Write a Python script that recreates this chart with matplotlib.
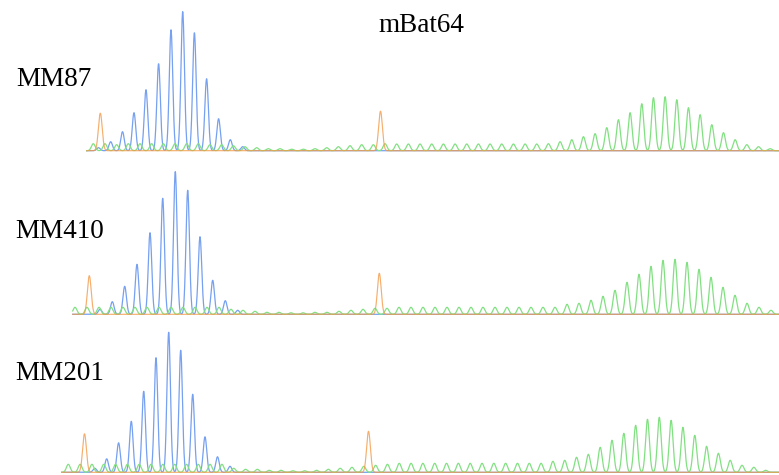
import matplotlib
matplotlib.use("Agg")
import matplotlib.pyplot as plt
import numpy as np

# ---- data (peak positions in scan units, heights in signal units) ----
# MM87
mm87_start = 86.7
mm87_orange_pos = [100.3, 380.5]
mm87_orange_h = [37.5, 39.5]
mm87_blue_pos = [98.5, 110.7, 122.5, 134.0, 146.0, 158.6, 171.0, 182.7, 194.4, 206.6, 218.6, 230.3, 242.7]
mm87_blue_h = [3, 9, 19, 38, 61, 87, 121, 139, 118, 72, 32, 11, 4]
mm87_ladder_first, mm87_ladder_step = 93.3, 11.67
mm87_green_h = [7, 7, 6, 7, 7, 7, 7, 7, 7, 7, 6, 6, 5,
                4, 3, 2, 2, 1.5, 1.5, 2, 3, 4, 5, 6, 6, 7,
                6.7, 6.7, 6.7, 6.7, 6.7, 6.7, 6.7, 6.7, 6.7, 6.7, 6.7, 6.7, 6.7,
                7, 9, 11, 14, 17, 23, 31, 38, 47, 53, 54, 51, 43, 36, 26, 18, 11, 6, 4, 2]

# MM410
mm410_start = 72.7
mm410_orange_pos = [89.3, 379.3]
mm410_orange_h = [38.6, 41]
mm410_blue_pos = [100.0, 112.3, 124.7, 137.0, 150.0, 162.7, 175.3, 187.7, 200.0, 212.7, 225.3, 237.7]
mm410_blue_h = [5, 12.6, 28, 50, 81.6, 116, 142.6, 124, 77.6, 34, 13.6, 4]
mm410_ladder_first, mm410_ladder_step = 75.0, 12.0
mm410_green_h = [7, 7, 7, 7, 7, 7, 7, 7, 7, 7, 7, 7, 7,
                 5, 4, 3, 2, 2, 1.5, 1.5, 2, 2, 3, 4, 5, 6, 6,
                 7, 7, 7, 7, 7, 7, 7, 7, 7, 7, 7, 7, 7, 7,
                 10, 11, 14, 18, 24, 32, 40, 48, 54, 55, 52, 45, 37, 27, 19, 11, 7, 4]

# MM201
mm201_start = 61.7
mm201_orange_pos = [84.5, 368.5]
mm201_orange_h = [38.5, 41]
mm201_blue_pos = [94.8, 106.7, 118.6, 131.3, 143.7, 156.0, 168.7, 180.7, 192.7, 205.0, 217.5, 230.0]
mm201_blue_h = [4, 13.5, 29.5, 51, 81, 114.7, 140, 122, 78, 35.5, 15.5, 6]
mm201_ladder_first, mm201_ladder_step = 68.3, 11.82
mm201_green_h = [8, 8, 8, 8, 8, 8, 8, 8, 8, 8, 8, 8, 8, 8,
                 4, 3, 3, 2, 2, 1.5, 1.5, 2, 3, 4, 5, 6, 7, 8,
                 9, 9, 9, 9, 9, 9, 9, 9, 9, 9, 9, 9, 9,
                 11, 12, 15, 18, 25, 32, 39, 47, 53, 55, 52, 45, 37, 26, 19, 12, 7, 5, 2]

samples = ["MM87", "MM410", "MM201"]
title = "mBat64"

panels = [
    (mm87_start, mm87_orange_pos, mm87_orange_h, mm87_blue_pos, mm87_blue_h,
     mm87_ladder_first, mm87_ladder_step, mm87_green_h),
    (mm410_start, mm410_orange_pos, mm410_orange_h, mm410_blue_pos, mm410_blue_h,
     mm410_ladder_first, mm410_ladder_step, mm410_green_h),
    (mm201_start, mm201_orange_pos, mm201_orange_h, mm201_blue_pos, mm201_blue_h,
     mm201_ladder_first, mm201_ladder_step, mm201_green_h),
]

W, H = 779, 475
baselines = [150.7, 314.3, 472.3]       # pixel rows of each trace baseline
label_xy = [(16, 86), (15, 237.7), (15, 380)]

BLUE = "#76a0f0"
GREEN = "#82e082"
ORANGE = "#f39a48"


def trace(x, pos, heights, sigma):
    y = np.zeros_like(x)
    for p, h in zip(pos, heights):
        y += h * np.exp(-0.5 * ((x - p) / sigma) ** 2)
    return y


fig = plt.figure(figsize=(W / 100, H / 100), dpi=100)

for (start, o_pos, o_h, b_pos, b_h, g0, gstep, g_h), base in zip(panels, baselines):
    ax = fig.add_axes([0, (H - base - 1.5) / H, 1, 150 / H])
    ax.set_xlim(0, W)
    ax.set_ylim(-1.5, 148.5)
    ax.axis("off")
    x = np.arange(start, W, 0.2)
    g_pos = g0 + gstep * np.arange(len(g_h))
    ax.plot(x, trace(x, b_pos, b_h, 1.75), color=BLUE, lw=0.9)
    ax.plot(x, trace(x, g_pos, g_h, 1.9), color=GREEN, lw=0.9)
    ax.plot(x, trace(x, o_pos, o_h, 1.9), color=ORANGE, lw=0.85, alpha=0.8)

for name, (lx, ly) in zip(samples, label_xy):
    fig.text(lx / W, 1 - ly / H, name, fontsize=19.5, family="Liberation Serif",
             va="baseline", ha="left")

fig.text(421 / W, 1 - 31.5 / H, title, fontsize=19.5, family="Liberation Serif",
         va="baseline", ha="center")

fig.savefig("out.png", dpi=100)
